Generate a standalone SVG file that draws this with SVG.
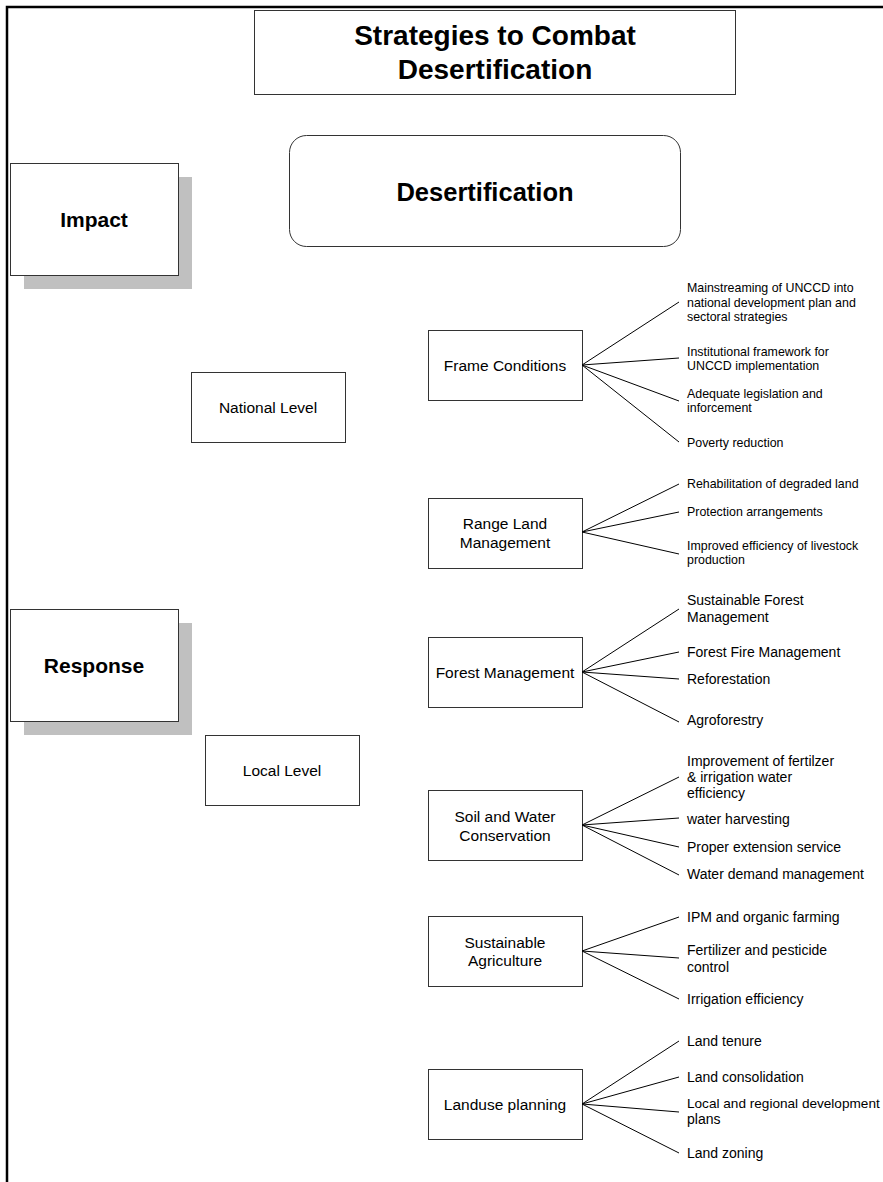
<svg xmlns="http://www.w3.org/2000/svg" width="883" height="1182" viewBox="0 0 883 1182">
<style>
text{font-family:"Liberation Sans",Arial,sans-serif;fill:#000}
.box{fill:#fff;stroke:#333;stroke-width:1}
.shadow{fill:#c0c0c0;stroke:none}
.lbl{font-size:15.5px;text-anchor:middle}
.big{font-weight:bold;text-anchor:middle}
.s12{font-size:12.4px}
.s14{font-size:14px}
.con line{stroke:#000;stroke-width:1}
</style>
<rect width="883" height="1182" fill="#fff"/>
<path d="M7,1182 V7 H883" fill="none" stroke="#000" stroke-width="2.5"/>
<g id="title">
<rect class="box" x="254.5" y="10.5" width="481" height="84"/>
<text class="big" x="495" y="45" font-size="28">Strategies to Combat</text>
<text class="big" x="495" y="79" font-size="28">Desertification</text>
</g>
<g id="desertification">
<rect class="box" x="289.5" y="135.5" width="391" height="111" rx="17"/>
<text class="big" x="485" y="201" font-size="25.5">Desertification</text>
</g>
<g id="impact">
<rect class="shadow" x="24" y="177" width="168" height="112"/>
<rect class="box" x="10.5" y="163.5" width="168" height="112"/>
<text class="big" x="94" y="227" font-size="21">Impact</text>
</g>
<g id="response">
<rect class="shadow" x="24" y="623" width="168" height="112"/>
<rect class="box" x="10.5" y="609.5" width="168" height="112"/>
<text class="big" x="94" y="673" font-size="21">Response</text>
</g>
<g id="national">
<rect class="box" x="191.5" y="372.5" width="154" height="70"/>
<text class="lbl" x="268" y="412.5">National Level</text>
</g>
<g id="local">
<rect class="box" x="205.5" y="735.5" width="154" height="70"/>
<text class="lbl" x="282" y="775.5">Local Level</text>
</g>
<g id="frame">
<rect class="box" x="428.5" y="330.5" width="154" height="70"/>
<text class="lbl" x="505" y="370.5">Frame Conditions</text>
</g>
<g id="range">
<rect class="box" x="428.5" y="498.5" width="154" height="70"/>
<text class="lbl" x="505" y="528.5">Range Land</text>
<text class="lbl" x="505" y="547.5">Management</text>
</g>
<g id="forest">
<rect class="box" x="428.5" y="637.5" width="154" height="70"/>
<text class="lbl" x="505" y="677.5">Forest Management</text>
</g>
<g id="soil">
<rect class="box" x="428.5" y="790.5" width="154" height="70"/>
<text class="lbl" x="505" y="821.5">Soil and Water</text>
<text class="lbl" x="505" y="840.5">Conservation</text>
</g>
<g id="agri">
<rect class="box" x="428.5" y="916.5" width="154" height="70"/>
<text class="lbl" x="505" y="947.5">Sustainable</text>
<text class="lbl" x="505" y="965.5">Agriculture</text>
</g>
<g id="landuse">
<rect class="box" x="428.5" y="1069.5" width="154" height="70"/>
<text class="lbl" x="505" y="1109.5">Landuse planning</text>
</g>
<g id="connectors" class="con">
<line x1="582" y1="365" x2="679" y2="302"/>
<line x1="582" y1="365" x2="679" y2="358"/>
<line x1="582" y1="365" x2="679" y2="401"/>
<line x1="582" y1="365" x2="679" y2="442"/>
<line x1="582" y1="532" x2="679" y2="484"/>
<line x1="582" y1="532" x2="679" y2="512"/>
<line x1="582" y1="532" x2="679" y2="554"/>
<line x1="582" y1="672" x2="679" y2="609"/>
<line x1="582" y1="672" x2="679" y2="652"/>
<line x1="582" y1="672" x2="679" y2="679"/>
<line x1="582" y1="672" x2="679" y2="722"/>
<line x1="582" y1="825" x2="679" y2="777"/>
<line x1="582" y1="825" x2="679" y2="818"/>
<line x1="582" y1="825" x2="679" y2="847"/>
<line x1="582" y1="825" x2="679" y2="875"/>
<line x1="582" y1="951" x2="679" y2="917"/>
<line x1="582" y1="951" x2="679" y2="958"/>
<line x1="582" y1="951" x2="679" y2="999"/>
<line x1="582" y1="1104" x2="679" y2="1041"/>
<line x1="582" y1="1104" x2="679" y2="1077"/>
<line x1="582" y1="1104" x2="679" y2="1112"/>
<line x1="582" y1="1104" x2="679" y2="1153"/>
</g>
<g id="frame-items" class="s12">
<text x="687" y="292">Mainstreaming of UNCCD into</text>
<text x="687" y="306.5">national development plan and</text>
<text x="687" y="321">sectoral strategies</text>
<text x="687" y="355.5">Institutional framework for</text>
<text x="687" y="370">UNCCD implementation</text>
<text x="687" y="397.5">Adequate legislation and</text>
<text x="687" y="412">inforcement</text>
<text x="687" y="446.5">Poverty reduction</text>
</g>
<g id="range-items" class="s12">
<text x="687" y="488.3">Rehabilitation of degraded land</text>
<text x="687" y="516.3">Protection arrangements</text>
<text x="687" y="550.3">Improved efficiency of livestock</text>
<text x="687" y="564.3">production</text>
</g>
<g id="forest-items" class="s14">
<text x="687" y="605">Sustainable Forest</text>
<text x="687" y="622">Management</text>
<text x="687" y="657">Forest Fire Management</text>
<text x="687" y="684">Reforestation</text>
<text x="687" y="725">Agroforestry</text>
</g>
<g id="soil-items" class="s14">
<text x="687" y="766">Improvement of fertilzer</text>
<text x="687" y="782">&amp; irrigation water</text>
<text x="687" y="798">efficiency</text>
<text x="687" y="824">water harvesting</text>
<text x="687" y="852">Proper extension service</text>
<text x="687" y="879">Water demand management</text>
</g>
<g id="agri-items" class="s14">
<text x="687" y="922">IPM and organic farming</text>
<text x="687" y="955">Fertilizer and pesticide</text>
<text x="687" y="972">control</text>
<text x="687" y="1004">Irrigation efficiency</text>
</g>
<g id="landuse-items" class="s14">
<text x="687" y="1046">Land tenure</text>
<text x="687" y="1082">Land consolidation</text>
<text x="687" y="1108" font-size="13.6px">Local and regional development</text>
<text x="687" y="1124">plans</text>
<text x="687" y="1158">Land zoning</text>
</g>
</svg>
